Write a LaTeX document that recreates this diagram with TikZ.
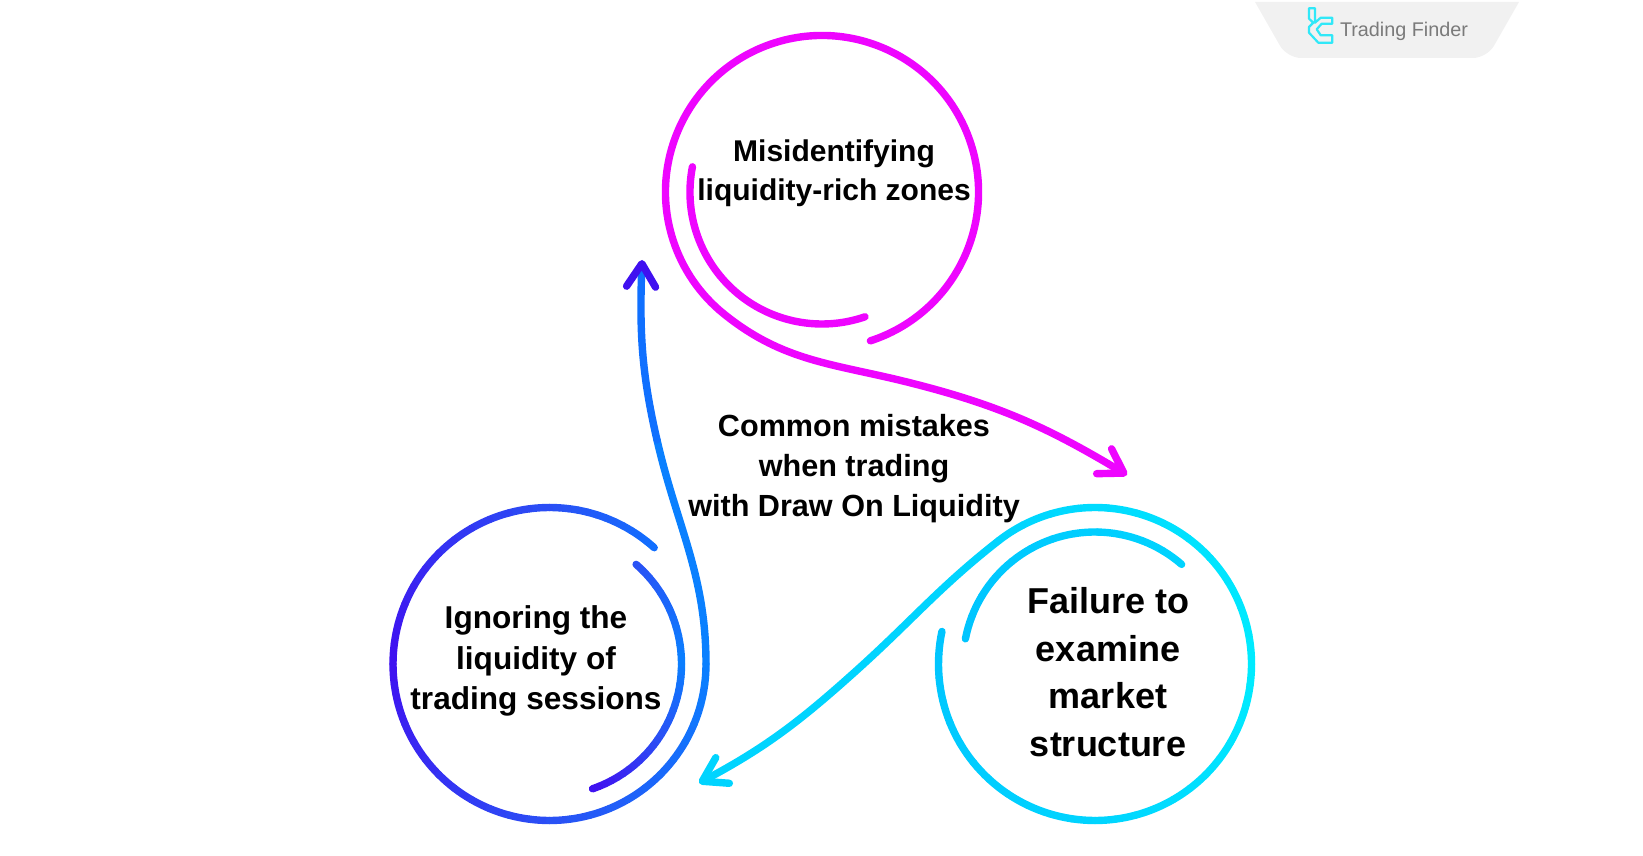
\documentclass[tikz,border=0pt]{standalone}
\usepackage{fontspec}
\setmainfont{Liberation Sans}
\usetikzlibrary{arrows.meta}

\definecolor{magline}{HTML}{EE05FF}
\definecolor{blupurple}{HTML}{4010F0}
\definecolor{blumid}{HTML}{2A50F5}
\definecolor{bluright}{HTML}{0A80FF}
\definecolor{bluupper}{HTML}{1070FF}
\definecolor{cyleft}{HTML}{00C4FF}
\definecolor{cymid}{HTML}{00D4FF}
\definecolor{cyright}{HTML}{00ECFF}
\definecolor{badgegray}{HTML}{F1F1F1}
\definecolor{badgetext}{HTML}{7A7A7A}
\definecolor{badgeicon}{HTML}{30E8F8}

\tikzset{
  ringline/.style={line width=7.4pt, line cap=round},
  tailtip/.style={-{Straight Barb[round,length=23pt,width=29pt,color=#1]}},
  ringlabel/.style={align=center, inner sep=0pt, font=\bfseries},
}

% centre, radius, first angle, last angle, first colour, last colour
\newcommand{\gradarc}[6]{
  \foreach \t in {0,...,11}{
    \pgfmathsetmacro\aa{#3+(#4-#3)*\t/12}
    \pgfmathsetmacro\ab{#3+(#4-#3)*(\t+1)/12}
    \pgfmathsetmacro\mx{100*(\t+0.5)/12}
    \draw[ringline, color={#6!\mx!#5}] ([shift={(\aa:#2)}]#1) arc[start angle=\aa, end angle=\ab, radius=#2];
  }
}

\begin{document}
\begin{tikzpicture}[x=1pt, y=1pt]
  \useasboundingbox (0,0) rectangle (1643,855);
  \coordinate (magc) at (822,663);
  \coordinate (bluc) at (549.5,191);
  \coordinate (cyc) at (1095,191);

  % Badge
  \fill[badgegray] (1255,853) -- (1519,853) [rounded corners=14pt] -- (1487,797) -- (1287,797) [sharp corners] -- cycle;
  \draw[badgeicon, line width=2.2pt, line join=round] (1309,846.7) -- (1315,846.7) -- (1315,832.3) -- (1320.7,837.3) -- (1332.3,837.3) -- (1332.3,831.3) -- (1321.7,831.3) -- (1316.7,825.7) -- (1320.7,819.7) -- (1332.3,819.7) -- (1332.3,812.3) -- (1318.3,812.3) -- (1309,822.3) -- (1309,828) -- (1313.3,832.3) -- (1309,836.3) -- cycle;
  \node[badgetext, inner sep=0pt, font=\fontsize{19.8}{21}\selectfont] (badgename) at (1404,824) {Trading Finder};

  % Magenta ring
  \draw[ringline, magline] ([shift={(169:132)}]magc) arc[start angle=169, end angle=289, radius=132];
  \coordinate (magbend) at (907,473);
  \coordinate (magtip) at (1127,380);
  \draw[ringline, magline, tailtip=magline] ([shift={(288:156.5)}]magc) arc[start angle=288, end angle=591, radius=156.5]
    to[out=321, in=166] (magbend) to[out=-14, in=149] (magtip);

  % Cyan ring
  \gradarc{cyc}{132}{49}{169}{cymid}{cyleft}
  \gradarc{cyc}{156.5}{168}{270}{cyleft}{cymid}
  \gradarc{cyc}{156.5}{270}{360}{cymid}{cyright}
  \gradarc{cyc}{156.5}{360}{488}{cyright}{cymid}
  \coordinate (cyout) at ([shift={(128:156.5)}]cyc);
  \coordinate (cybend) at (857,185);
  \coordinate (cytip) at (699,72);
  \draw[ringline, cymid, tailtip=cymid] (cyout) to[out=218, in=42] (cybend) to[out=222, in=28] (cytip);

  % Blue ring
  \gradarc{bluc}{132}{49}{0}{blumid}{bluright}
  \gradarc{bluc}{132}{0}{-35}{bluright}{blumid}
  \gradarc{bluc}{132}{-35}{-71}{blumid}{blupurple}
  \gradarc{bluc}{156.5}{48}{90}{bluupper}{blumid}
  \gradarc{bluc}{156.5}{90}{180}{blumid}{blupurple}
  \gradarc{bluc}{156.5}{180}{270}{blupurple}{blumid}
  \gradarc{bluc}{156.5}{270}{360}{blumid}{bluright}
  \coordinate (bluout) at ([shift={(0:156.5)}]bluc);
  \coordinate (blubend) at (657,415);
  \coordinate (blutip) at (642,595);
  \draw[ringline, bluright] (bluout) to[out=90, in=283] (blubend);
  \draw[ringline, bluupper, tailtip=blupurple] (blubend) to[out=103, in=268] (blutip);

  % Labels
  \node[ringlabel, font=\bfseries\fontsize{30}{39}\selectfont] (magtext) at (834,682) {Misidentifying\\liquidity-rich zones};
  \node[ringlabel, font=\bfseries\fontsize{30.6}{40}\selectfont] (midtext) at (854,386) {Common mistakes\\when trading\\with Draw On Liquidity};
  \node[ringlabel, font=\bfseries\fontsize{36}{47.5}\selectfont] (cytext) at (1108,183) {Failure to\\examine\\market\\structure};
  \node[ringlabel, font=\bfseries\fontsize{31.6}{40.5}\selectfont] (blutext) at (536,194) {Ignoring the\\liquidity of\\trading sessions};
\end{tikzpicture}
\end{document}
